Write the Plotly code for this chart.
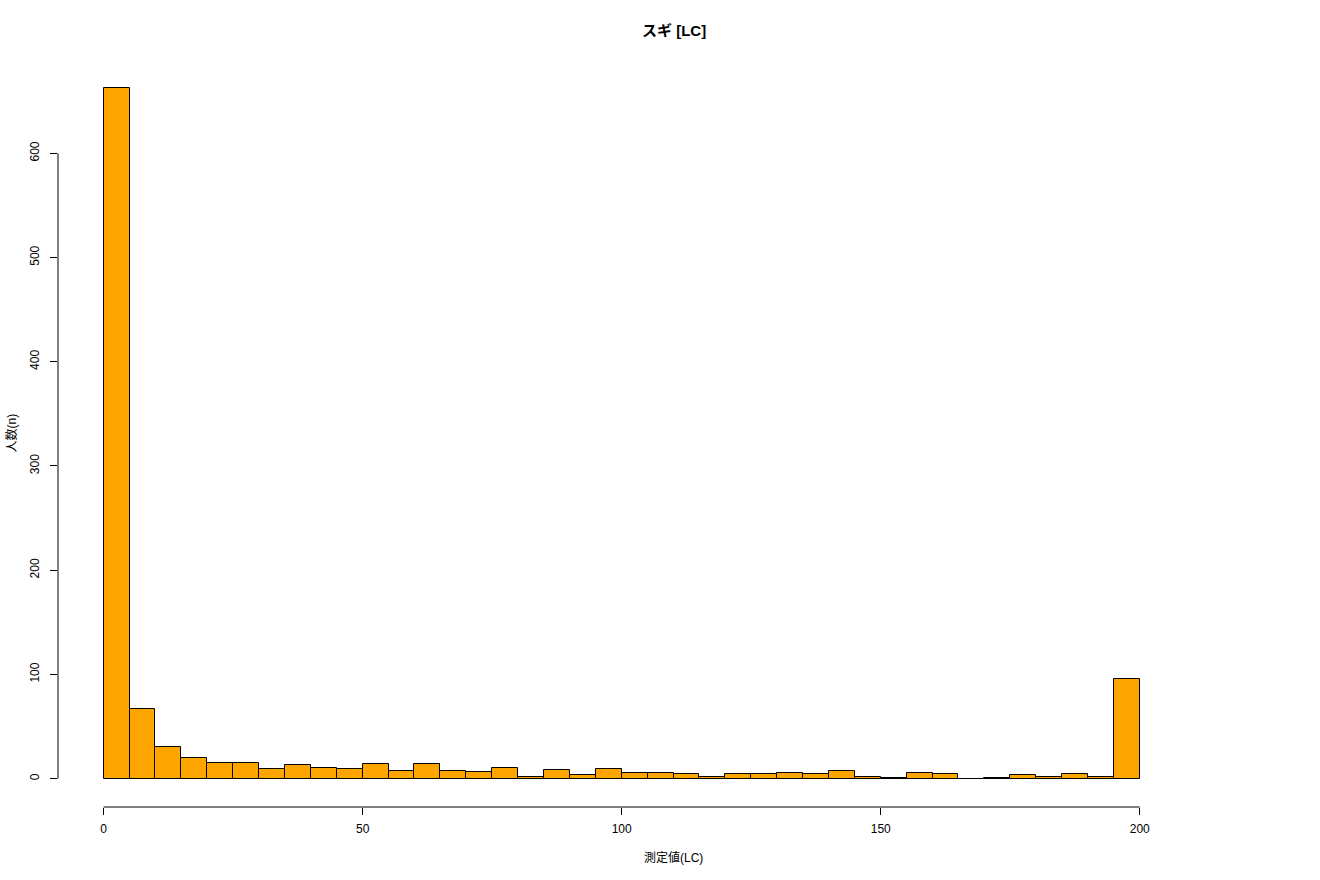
import plotly.graph_objects as go

# Histogram bins (width 5, from 0 to 200)
bin_starts = list(range(0, 200, 5))
counts = [663, 67, 30, 20, 15, 15, 9, 13, 10, 9,
          14, 7, 14, 7, 6, 10, 2, 8, 3, 9,
          5, 5, 4, 2, 4, 4, 5, 4, 7, 2,
          1, 5, 4, 0, 1, 3, 2, 4, 2, 96]
bin_width = 5
x_ticks = [0, 50, 100, 150, 200]
y_ticks = [0, 100, 200, 300, 400, 500, 600]

title = "スギ [LC]"
x_label = "測定値(LC)"
y_label = "人数(n)"

FONT = "Liberation Sans, Arial, Noto Sans CJK JP, sans-serif"

centers = [s + bin_width / 2 for s in bin_starts]

fig = go.Figure()
fig.add_trace(go.Bar(
    x=centers, y=counts, width=[bin_width] * len(counts),
    marker=dict(color="#FFA500", line=dict(color="black", width=1)),
    hoverinfo="x+y",
))

xlim = (0, 220)
ext = (xlim[1] - xlim[0]) * 0.04
ylim = (0, max(counts))
yext = (ylim[1] - ylim[0]) * 0.04

fig.update_layout(
    width=1320, height=880,
    margin=dict(l=58.4, r=30.8, t=60, b=73.3),
    paper_bgcolor="white", plot_bgcolor="white",
    font=dict(family=FONT, size=12, color="black"),
    showlegend=False,
    bargap=0,
    xaxis=dict(
        range=[xlim[0] - ext, xlim[1] + ext],
        tickvals=x_ticks, ticktext=[str(v) for v in x_ticks],
        ticks="outside", ticklen=7, tickwidth=1, tickcolor="black",
        showline=False, showgrid=False, zeroline=False,
        tickfont=dict(size=12, family=FONT),
        ticklabelstandoff=4,
    ),
    yaxis=dict(
        range=[-27.25, ylim[1] + yext],
        tickvals=y_ticks, ticktext=[str(v) for v in y_ticks],
        ticks="outside", ticklen=7, tickwidth=1, tickcolor="black",
        tickangle=-90,
        showline=False, showgrid=False, zeroline=False,
        tickfont=dict(size=12, family=FONT),
        ticklabelstandoff=6,
    ),
    shapes=[
        dict(type="line", xref="x", yref="paper",
             x0=x_ticks[0], x1=x_ticks[-1], y0=0, y1=0,
             line=dict(color="black", width=1)),
        dict(type="line", xref="paper", yref="y",
             x0=0, x1=0, y0=y_ticks[0], y1=y_ticks[-1],
             line=dict(color="black", width=1)),
    ],
    annotations=[
        dict(text="<b>" + title + "</b>", xref="paper", yref="paper",
             x=0.5, y=1, yshift=30, showarrow=False,
             font=dict(size=15, family=FONT), xanchor="center", yanchor="middle"),
        dict(text=x_label, xref="paper", yref="paper",
             x=0.5, y=0, yshift=-50, showarrow=False,
             font=dict(size=12, family=FONT), xanchor="center", yanchor="middle"),
        dict(text=y_label, xref="paper", yref="paper",
             x=0, y=0.5, xshift=-47, showarrow=False, textangle=-90,
             font=dict(size=12, family=FONT), xanchor="center", yanchor="middle"),
    ],
)

fig.write_html(
    "out.html",
    config={"displayModeBar": False},
    post_script="document.body.style.margin='0';document.body.style.overflow='hidden';",
)
